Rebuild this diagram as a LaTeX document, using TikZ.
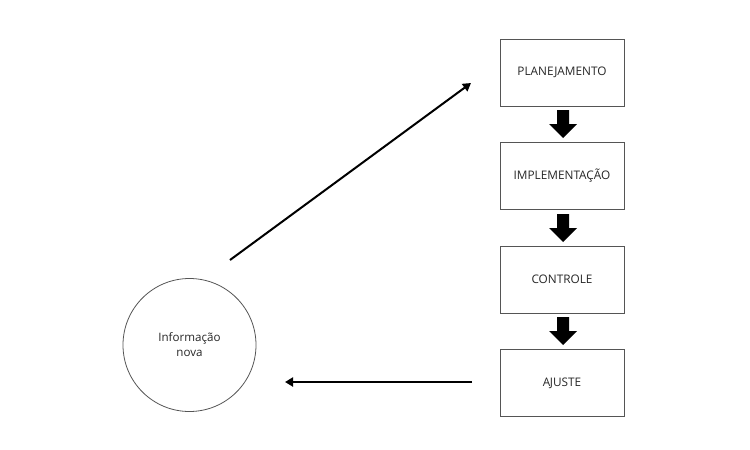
\documentclass[tikz,border=0pt]{standalone}
\usepackage{fontspec}
\setmainfont{Open Sans}
\usetikzlibrary{arrows.meta}
\definecolor{txt}{HTML}{262626}
\definecolor{edge}{HTML}{555555}
\tikzset{
  box/.style={draw=edge, line width=0.8pt, minimum width=124pt, minimum height=67pt, inner sep=0pt, font=\fontsize{11.8}{14}\selectfont, text=txt},
  circ/.style={draw=edge, line width=0.8pt, circle, minimum size=133pt, inner sep=0pt, align=center, font=\fontsize{11.6}{15}\selectfont, text=txt},
  conn/.style={line width=2pt, -{Triangle[length=8pt,width=9pt]}},
  blockarrow/.style={fill=black}
}
\begin{document}
\begin{tikzpicture}[x=1pt,y=-1pt]
\useasboundingbox (0,0) rectangle (750,450);
\node[box] (p) at (562,72.5) {PLANEJAMENTO};
\node[box] (i) at (562,175.5) {IMPLEMENTAÇÃO};
\node[box] (c) at (562,279.5) {CONTROLE};
\node[box] (a) at (562,383) {A\kern-0.4pt JUSTE};
\node[circ] (n) at (189.5,345) {Informação\\nova};
\coordinate (s1) at (230,260);
\coordinate (e1) at (471,83);
\coordinate (s2) at (472,382);
\coordinate (e2) at (285,382);
\draw[conn] (s1) -- (e1);
\draw[conn] (s2) -- (e2);
\foreach \t/\b in {110/138, 214/242, 317/345}{
  \fill[blockarrow] (557,\t) -- (569,\t) -- (569,\t+14) -- (577,\t+14) -- (563,\b) -- (549,\t+14) -- (557,\t+14) -- cycle;
}
\end{tikzpicture}
\end{document}
